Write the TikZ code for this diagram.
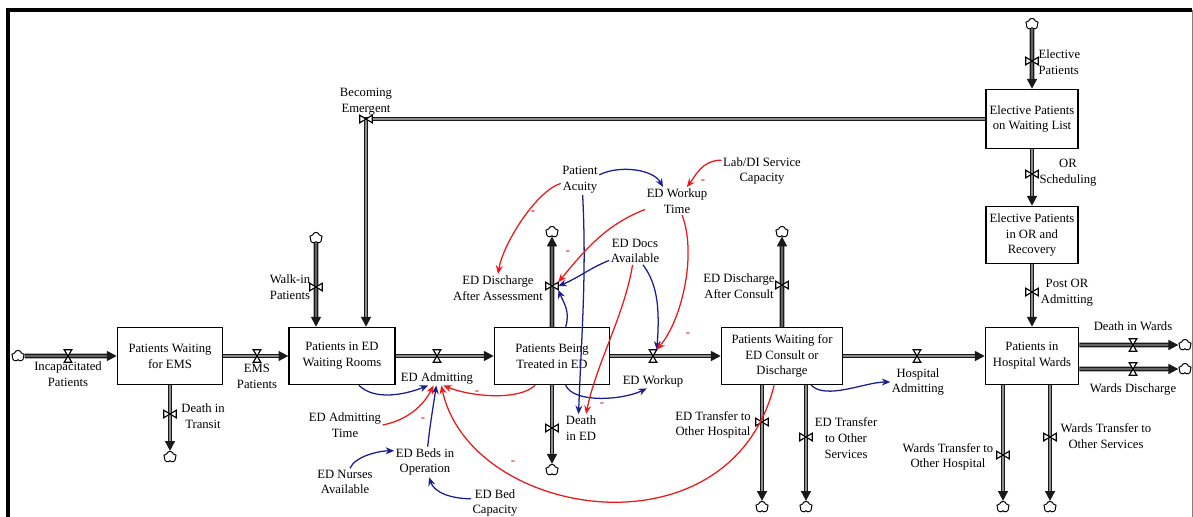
\documentclass[tikz,border=0pt]{standalone}
\usepackage{fontspec}
\setmainfont{Liberation Serif}
\usetikzlibrary{arrows.meta,positioning,shapes.symbols}
\definecolor{lnkblue}{RGB}{25,30,140}
\definecolor{lnkred}{RGB}{235,25,25}
\definecolor{pipegray}{RGB}{25,25,25}

\begin{document}
\begin{tikzpicture}[x=0.025cm, y=-0.025cm,
  font=\fontsize{9}{11.2}\selectfont,
  stock/.style={draw, line width=0.9pt, fill=white, minimum height=1.43cm, align=center, inner sep=2pt},
  lbl/.style={align=center, inner sep=1pt},
  pipe/.style={draw=pipegray, line width=1.3pt, double=black!45, double distance=0.9pt, -{Triangle[length=7pt,width=7pt]}},
  vvalve/.style={minimum width=5pt, minimum height=8.5pt, inner sep=0pt},
  hvalve/.style={minimum width=8.5pt, minimum height=5pt, inner sep=0pt},
  sink/.style={cloud, cloud puffs=5, draw, line width=0.7pt, fill=white, minimum width=9pt, minimum height=8pt, inner sep=0pt, aspect=1.2},
  blink/.style={lnkblue, line width=0.9pt, -{Stealth[length=6pt,width=5pt]}},
  rlink/.style={lnkred, line width=0.9pt, -{Stealth[length=6pt,width=5pt]}},
  minus/.style={text=lnkred, font=\bfseries\small, inner sep=0pt}
]
  \useasboundingbox (0,0) rectangle (1193,516);
  \clip (0,0) rectangle (1193,516);

  %% frame
  \draw[line width=2.2pt] (8,530) -- (8,10) -- (1192,10);
  \draw[line width=0.6pt, black!50] (1192,10) -- (1192,530);

  %% stocks
  \node[stock, minimum width=2.63cm] (pwe) at (170,356) {Patients Waiting\\for EMS};
  \node[stock, minimum width=2.65cm] (pwr) at (342,356) {Patients in ED\\Waiting Rooms};
  \node[stock, minimum width=2.88cm] (pbt) at (552,356) {Patients Being\\Treated in ED};
  \node[stock, minimum width=3.03cm] (pwc) at (782,356) {Patients Waiting for\\ED Consult or\\Discharge};
  \node[stock, minimum width=2.33cm] (phw) at (1032,356) {Patients in\\Hospital Wards};
  \node[stock, minimum width=2.3cm, minimum height=1.48cm] (ewl) at (1032,119) {Elective Patients\\on Waiting List};
  \node[stock, minimum width=2.3cm] (eor) at (1032,235) {Elective Patients\\in OR and\\Recovery};

  %% clouds
  \node[sink] (c1) at (18,356) {};
  \node[sink] (c2) at (170,457) {};
  \node[sink] (c3) at (316,238) {};
  \node[sink] (c4) at (552,232) {};
  \node[sink] (c5) at (552,470) {};
  \node[sink] (c6) at (782,232) {};
  \node[sink] (c7) at (762,507) {};
  \node[sink] (c8) at (806,507) {};
  \node[sink] (c9) at (1185,345) {};
  \node[sink] (c10) at (1185,369) {};
  \node[sink] (c11) at (1003,507) {};
  \node[sink] (c12) at (1050,507) {};
  \node[sink] (c13) at (1032,24) {};

  %% valves
  \node[vvalve] (vinc) at (68,356) {};
  \node[vvalve] (vems) at (257,356) {};
  \node[vvalve] (vadm) at (437,356) {};
  \node[vvalve] (vwk) at (653,356) {};
  \node[vvalve] (vhad) at (917,356) {};
  \node[vvalve] (vdw) at (1133,345) {};
  \node[vvalve] (vwd) at (1133,369) {};
  \node[hvalve] (vdt) at (170,414) {};
  \node[hvalve] (vwi) at (316,287) {};
  \node[hvalve] (vbe) at (366,119) {};
  \node[hvalve] (vdaa) at (552,286) {};
  \node[hvalve] (vded) at (552,428) {};
  \node[hvalve] (vdac) at (782,285) {};
  \node[hvalve] (vtoh) at (762,422) {};
  \node[hvalve] (vtos) at (806,437) {};
  \node[hvalve] (vel) at (1032,61) {};
  \node[hvalve] (vors) at (1032,174) {};
  \node[hvalve] (vpor) at (1032,292) {};
  \node[hvalve] (vwoh) at (1003,455) {};
  \node[hvalve] (vwos) at (1050,437) {};

  %% flow labels
  \node[lbl] (linc) at (68,374) {Incapacitated\\Patients};
  \node[lbl] (lems) at (257,376) {EMS\\Patients};
  \node[lbl] (ldt) at (203,416) {Death in\\Transit};
  \node[lbl] (lwi) at (290,287) {Walk-in\\Patients};
  \node[lbl] (lbe) at (366,102) {Becoming\\Emergent};
  \node[lbl] (ladm) at (437,378) {ED Admitting};
  \node[lbl] (ldaa) at (498,288) {ED Discharge\\After Assessment};
  \node[lbl] (lded) at (581,428) {Death\\in ED};
  \node[lbl] (lwk) at (653,381) {ED Workup};
  \node[lbl] (ldac) at (739,286) {ED Discharge\\After Consult};
  \node[lbl] (ltoh) at (713,425) {ED Transfer to\\Other Hospital};
  \node[lbl] (ltos) at (846,438) {ED Transfer\\to Other\\Services};
  \node[lbl] (lhad) at (918,382) {Hospital\\Admitting};
  \node[lbl, align=left, anchor=west] (lel) at (1037,62) {Elective\\Patients};
  \node[lbl] (lors) at (1068,173) {OR\\Scheduling};
  \node[lbl] (lpor) at (1067,293) {Post OR\\Admitting};
  \node[lbl] (ldw) at (1133,326) {Death in Wards};
  \node[lbl] (lwd) at (1133,389) {Wards Discharge};
  \node[lbl] (lwoh) at (948,457) {Wards Transfer to\\Other Hospital};
  \node[lbl] (lwos) at (1106,436) {Wards Transfer to\\Other Services};

  %% auxiliaries
  \node[lbl] (pa) at (580,180) {Patient\\Acuity};
  \node[lbl] (wt) at (677,201) {ED Workup\\Time};
  \node[lbl] (lab) at (762,171) {Lab/DI Service\\Capacity};
  \node[lbl] (docs) at (635,251) {ED Docs\\Available};
  \node[lbl] (admt) at (345,425) {ED Admitting\\Time};
  \node[lbl] (beds) at (425,462) {ED Beds in\\Operation};
  \node[lbl] (nurses) at (345,482) {ED Nurses\\Available};
  \node[lbl] (bedcap) at (495,503) {ED Bed\\Capacity};

  %% pipes
  \draw[pipe] (c1) -- (pwe);
  \draw[pipe] (pwe) -- (pwr);
  \draw[pipe] (pwe) -- (c2);
  \draw[pipe] (c3) -- (c3 |- pwr.north);
  \draw[pipe] (ewl) -| (vbe |- pwr.north);
  \draw[pipe] (pwr) -- (pbt);
  \draw[pipe] (pbt) -- (c4);
  \draw[pipe] (pbt) -- (c5);
  \draw[pipe] (pbt) -- (pwc);
  \draw[pipe] (pwc) -- (c6);
  \draw[pipe] (c7 |- pwc.south) -- (c7);
  \draw[pipe] (c8 |- pwc.south) -- (c8);
  \draw[pipe] (pwc) -- (phw);
  \draw[pipe] (c13) -- (ewl);
  \draw[pipe] (ewl) -- (eor);
  \draw[pipe] (eor) -- (phw);
  \draw[pipe] (phw.east |- c9) -- (c9);
  \draw[pipe] (phw.east |- c10) -- (c10);
  \draw[pipe] (c11 |- phw.south) -- (c11);
  \draw[pipe] (c12 |- phw.south) -- (c12);

  %% valve glyphs
  \foreach \v in {vinc,vems,vadm,vwk,vhad,vdw,vwd}
    \draw[line width=0.8pt, fill=white] (\v.north west) -- (\v.north east) -- (\v.south west) -- (\v.south east) -- cycle;
  \foreach \v in {vdt,vwi,vbe,vdaa,vded,vdac,vtoh,vtos,vel,vors,vpor,vwoh,vwos}
    \draw[line width=0.8pt, fill=white] (\v.north west) -- (\v.south west) -- (\v.north east) -- (\v.south east) -- cycle;

  %% blue links
  \draw[blink] (pa.15) .. controls +(20,-10) and +(-10,-18) .. (wt.135);
  \draw[blink] (pa.-80) .. controls +(4,80) and +(3,-80) .. (lded.100);
  \draw[blink] (docs.200) .. controls +(-20,8) and +(20,-8) .. (vdaa.east);
  \draw[blink] (docs.-60) .. controls +(15,20) and +(3,-40) .. (vwk.north east);
  \draw[blink] (pbt.65) .. controls +(5,-15) and +(5,12) .. (vdaa.south east);
  \draw[blink] (pbt.-65) .. controls +(8,18) and +(-25,12) .. (lwk.-130);
  \draw[blink] (pwr.-60) .. controls +(15,15) and +(-25,10) .. (ladm.-140);
  \draw[blink] (beds.80) .. controls +(2,-20) and +(-3,20) .. (ladm.-95);
  \draw[blink] (nurses.70) .. controls +(5,-12) and +(-15,0) .. (beds.160);
  \draw[blink] (bedcap.170) .. controls +(-20,0) and +(5,15) .. (beds.-75);
  \draw[blink] (pwc.-45) .. controls +(15,15) and +(-25,0) .. (lhad.west);

  %% red links
  \draw[rlink] (lab.165) .. controls +(-20,0) and +(8,-10) .. (wt.55);
  \draw[rlink] (pa.190) .. controls +(-25,8) and +(5,-30) .. (ldaa.north);
  \draw[rlink] (wt.195) .. controls +(-40,15) and +(25,-30) .. (vdaa.north east);
  \draw[rlink] (wt.-70) .. controls +(15,40) and +(25,-30) .. (vwk.north east);
  \draw[rlink] (docs.-100) .. controls +(-8,50) and +(10,-50) .. (lded.70);
  \draw[rlink] (admt.east) .. controls +(25,-5) and +(-10,20) .. (ladm.-115);
  \draw[rlink] (pbt.-120) .. controls +(-15,15) and +(30,12) .. (ladm.-50);
  \draw[rlink] (pwc.-105) .. controls +(-44,175) and +(29,134) .. (ladm.-60);

  %% polarity signs
  \foreach \p [count=\i] in {(703,182),(533,213),(568,253),(688,335),(602,405),(423,420),(477,393),(513,463)}
    \node[minus] (m\i) at \p {-};
\end{tikzpicture}
\end{document}
